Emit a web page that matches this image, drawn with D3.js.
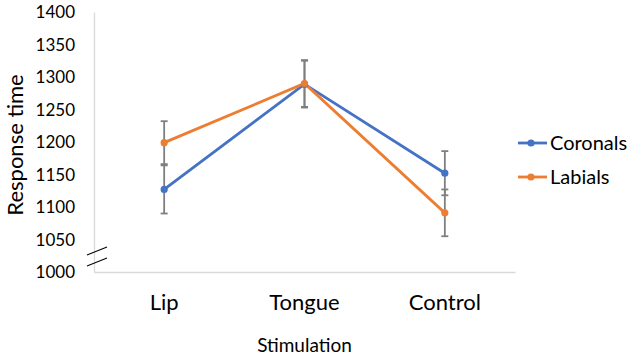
<!DOCTYPE html>
<html>
<head>
<meta charset="utf-8">
<script src="https://cdn.jsdelivr.net/npm/d3@7"></script>
<style>
  body { margin: 0; background: #fff; }
  text { font-family: Lato, "Open Sans", sans-serif; fill: #000; }
</style>
</head>
<body>
<div id="graf"></div>
<script>
// Datos
const categorias = ['Lip', 'Tongue', 'Control']
const coronales = [1127, 1289, 1152]
const labiales = [1199, 1290, 1091]
const errCoronales = [37, 36, 34]
const errLabiales = [33, 36, 36]
const ticksY = [1000, 1050, 1100, 1150, 1200, 1250, 1300, 1350, 1400]

const series = [
  { nombre: 'Coronals', valores: coronales, err: errCoronales, color: '#4472C4' },
  { nombre: 'Labials', valores: labiales, err: errLabiales, color: '#ED7D31' }
]

const ancho_total = 629, alto_total = 360
const margen = { superior: 12, izquierdo: 94, derecho: 114, inferior: 88 }
const ancho = ancho_total - margen.izquierdo - margen.derecho
const alto = alto_total - margen.superior - margen.inferior

const svg = d3.select('#graf').append('svg')
  .attr('width', ancho_total)
  .attr('height', alto_total)

const g = svg.append('g')
  .attr('transform', `translate(${margen.izquierdo}, ${margen.superior})`)

const x = d3.scaleBand().domain(categorias).range([0, ancho])
const y = d3.scaleLinear().domain([1000, 1400]).range([alto, 0])
const cx = d => x(d) + x.bandwidth() / 2

// Eje Y
const yAxis = g.append('g')
  .call(d3.axisLeft(y).tickValues(ticksY).tickFormat(d3.format('d')).tickSize(0).tickPadding(19))
yAxis.select('.domain').attr('stroke', '#d9d9d9').attr('stroke-width', 1.3)
yAxis.selectAll('text').style('font-size', '17px').attr('dy', '0.35em')

// Eje X
const xAxis = g.append('g')
  .attr('transform', `translate(0, ${alto})`)
  .call(d3.axisBottom(x).tickSize(0).tickPadding(22))
xAxis.select('.domain').attr('stroke', '#d9d9d9').attr('stroke-width', 1.3)
xAxis.selectAll('text').style('font-size', '22px')

// Marcas de corte del eje
const corte = [[-7, 255, 13, 247], [-7, 266, 13, 258]]
g.selectAll('.corte').data(corte).enter().append('line')
  .attr('x1', d => d[0]).attr('y1', d => d[1] - margen.superior)
  .attr('x2', d => d[2]).attr('y2', d => d[3] - margen.superior)
  .attr('stroke', '#000').attr('stroke-width', 1.1)

// Lineas
const linea = d3.line().x((d, i) => cx(categorias[i])).y(d => y(d))
series.forEach(s => {
  g.append('path')
    .datum(s.valores)
    .attr('fill', 'none')
    .attr('stroke', s.color)
    .attr('stroke-width', 2.8)
    .attr('d', linea)
})

// Barras de error
series.forEach(s => {
  s.valores.forEach((v, i) => {
    const xx = cx(categorias[i])
    const eg = g.append('g').attr('stroke', '#7f7f7f').attr('stroke-width', 1.8)
    eg.append('line').attr('x1', xx).attr('x2', xx).attr('y1', y(v - s.err[i])).attr('y2', y(v + s.err[i]))
    eg.append('line').attr('x1', xx - 3.5).attr('x2', xx + 3.5).attr('y1', y(v - s.err[i])).attr('y2', y(v - s.err[i]))
    eg.append('line').attr('x1', xx - 3.5).attr('x2', xx + 3.5).attr('y1', y(v + s.err[i])).attr('y2', y(v + s.err[i]))
  })
})

// Puntos
series.forEach(s => {
  g.selectAll(null).data(s.valores).enter().append('circle')
    .attr('cx', (d, i) => cx(categorias[i]))
    .attr('cy', d => y(d))
    .attr('r', 3.6)
    .attr('fill', s.color)
})

// Titulos de ejes
svg.append('text')
  .attr('transform', `translate(23, ${margen.superior + alto / 2 + 3}) rotate(-90)`)
  .attr('text-anchor', 'middle')
  .style('font-size', '22px')
  .text('Response time')

svg.append('text')
  .attr('x', margen.izquierdo + ancho / 2)
  .attr('y', 352)
  .attr('text-anchor', 'middle')
  .style('font-size', '19px')
  .text('Stimulation')

// Leyenda
const leyenda = svg.append('g').attr('transform', 'translate(518, 143)')
series.forEach((s, i) => {
  const lg = leyenda.append('g').attr('transform', `translate(0, ${i * 34})`)
  lg.append('line').attr('x1', 0).attr('x2', 29).attr('stroke', s.color).attr('stroke-width', 2.8)
  lg.append('circle').attr('cx', 13).attr('r', 3.6).attr('fill', s.color)
  lg.append('text').attr('x', 32).attr('dy', '0.35em').style('font-size', '20px').text(s.nombre)
})
</script>
</body>
</html>
